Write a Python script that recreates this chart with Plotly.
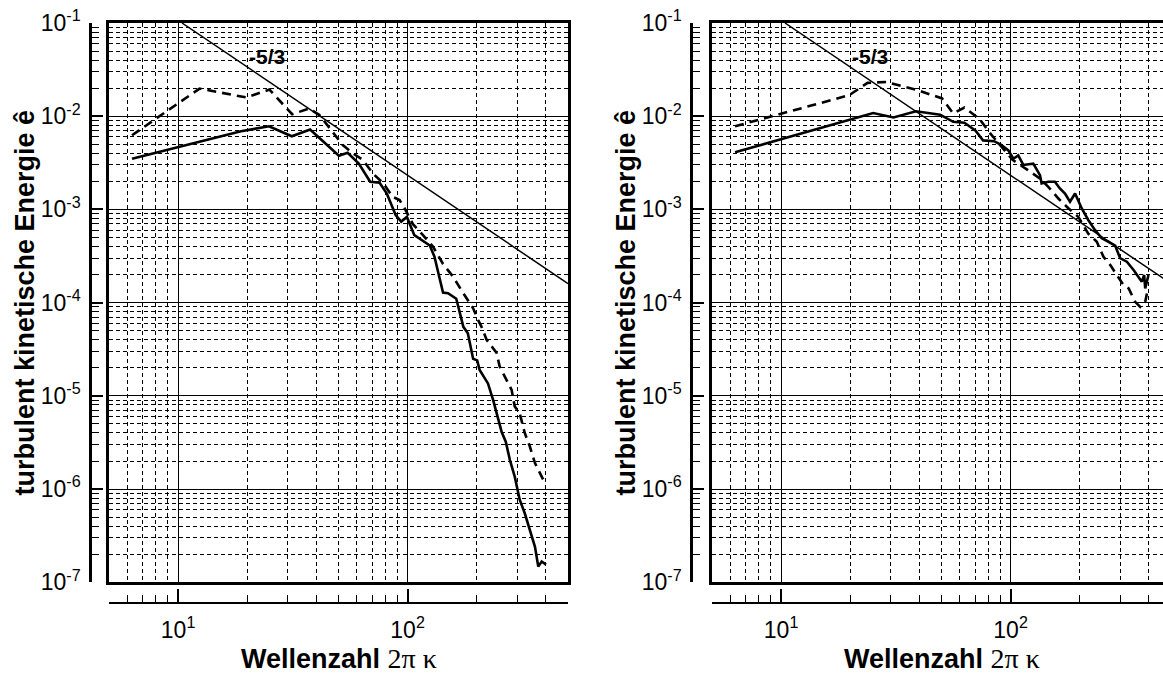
import math
import plotly.graph_objects as go

# ---------------- data ----------------
left_solid_k = [6.3, 12.6, 18.8, 24.9, 31.3, 37.6, 50.2, 54.8, 61.3, 68.7, 75.5, 81.2, 88.7, 93.8, 99.3,
                107, 115, 125, 131, 142.7, 150, 163, 175, 183, 193, 201, 206, 224, 236, 248,
                257, 268, 279, 293, 308, 324, 347, 359, 371, 384, 401]
left_solid_e = [3.5e-3, 5.4e-3, 6.9e-3, 7.8e-3, 6.1e-3, 7.2e-3, 3.76e-3, 4.05e-3, 3.1e-3, 1.98e-3, 1.93e-3,
                1.48e-3, 8.7e-4, 7.4e-4, 8.3e-4, 5.3e-4, 4.7e-4, 4.1e-4, 3.1e-4, 1.28e-4, 1.26e-4,
                1.1e-4, 5.5e-5, 4.7e-5, 2.5e-5, 2.4e-5, 1.9e-5, 1.36e-5, 9.0e-6, 5.5e-6, 4.1e-6,
                3.2e-6, 2.06e-6, 1.36e-6, 7.7e-7, 5.5e-7, 3.1e-7, 2.4e-7, 1.48e-7, 1.67e-7, 1.55e-7]

left_dash_k = [6.3, 12.4, 19.8, 25.0, 31.4, 37.3, 41.3, 47.2, 52.2, 57.7, 63.8, 70.6, 78, 86.3, 92.3, 97,
               105.5, 116.7, 129, 142.7, 157.8, 175, 193, 203, 210, 221, 244, 252, 270, 284, 293,
               308, 324, 341, 359, 377, 396]
left_dash_e = [6.25e-3, 1.98e-2, 1.59e-2, 1.93e-2, 1.05e-2, 1.21e-2, 1.03e-2, 6.8e-3, 4.9e-3, 4.0e-3,
               3.4e-3, 2.43e-3, 1.93e-3, 1.36e-3, 1.26e-3, 1.03e-3, 6.95e-4, 5.3e-4, 4.0e-4, 2.6e-4,
               1.9e-4, 1.26e-4, 8.7e-5, 6.5e-5, 5.5e-5, 4.0e-5, 2.9e-5, 2.06e-5, 1.48e-5, 1.16e-5,
               7.7e-6, 6.5e-6, 4.0e-6, 2.86e-6, 1.9e-6, 1.48e-6, 1.17e-6]

right_solid_k = [6.3, 25.2, 30.9, 38.7, 49.3, 56.2, 62.9, 70.4, 75.9, 84.8, 91.3, 97.8, 102.8, 108,
                 113.6, 125.6, 134.3, 136.5, 146, 156, 164, 172.6, 181.5, 191, 204, 218, 233.5,
                 249.6, 267, 285.5, 300, 321, 343.5, 361, 373, 382, 386, 399]
right_solid_e = [4.1e-3, 1.08e-2, 9.7e-3, 1.13e-2, 1.04e-2, 8.7e-3, 8.5e-3, 7.0e-3, 5.5e-3, 5.4e-3,
                 4.9e-3, 4.3e-3, 3.5e-3, 3.8e-3, 3.0e-3, 3.1e-3, 2.33e-3, 1.9e-3, 1.98e-3, 1.98e-3,
                 1.68e-3, 1.48e-3, 1.21e-3, 1.48e-3, 1.03e-3, 7.7e-4, 6.0e-4, 4.9e-4, 4.5e-4,
                 4.1e-4, 3.0e-4, 2.75e-4, 2.24e-4, 1.9e-4, 1.68e-4, 1.98e-4, 1.42e-4, 1.98e-4]

right_dash_k = [6.3, 19.8, 23.8, 28.7, 38.7, 50.3, 56.2, 62.9, 73, 81.7, 91.3, 102, 119, 134, 146,
                161.5, 178.5, 197.5, 218, 237.5, 254, 272, 290, 310.5, 327, 349, 367, 386, 393]
right_dash_e = [7.8e-3, 1.68e-2, 2.28e-2, 2.33e-2, 1.93e-2, 1.55e-2, 1.07e-2, 1.24e-2, 9.4e-3, 6.5e-3,
                4.7e-3, 3.4e-3, 2.64e-3, 2.15e-3, 1.75e-3, 1.31e-3, 1.03e-3, 8.3e-4, 5.5e-4, 4.5e-4,
                3.1e-4, 2.53e-4, 1.98e-4, 1.55e-4, 1.42e-4, 1.02e-4, 9.0e-5, 1.02e-4, 1.26e-4]

# -5/3 reference line end points
ref_k = [10.4, 500]
ref_e = [0.1, 1.6e-4]

x_major = [10, 100]
x_major_text = ["10<sup>1</sup>", "10<sup>2</sup>"]
y_major = [1e-7, 1e-6, 1e-5, 1e-4, 1e-3, 1e-2, 1e-1]
y_major_text = ["10<sup>-7</sup>", "10<sup>-6</sup>", "10<sup>-5</sup>", "10<sup>-4</sup>",
                "10<sup>-3</sup>", "10<sup>-2</sup>", "10<sup>-1</sup>"]
slope_label = "-5/3"
x_title = ("<b>Wellenzahl</b> <span style='font-family:\"Liberation Serif\",\"Times New Roman\",serif;"
           "font-size:28px'>2π κ</span>")
y_title = "<b>turbulent kinetische Energie ê</b>"

# ---------------- layout geometry ----------------
W, H = 1163, 673
MT, MB = 23, 63
PH = H - MT - MB
def py(p):  # pixel y -> paper
    return (H - MB - p) / PH
def px(p):
    return p / W

x_minor = [m * 10.0 ** e for e in range(0, 3) for m in range(2, 10)]
y_minor = [m * 10.0 ** e for e in range(-7, -1) for m in range(2, 10)]

XR_L = [math.log10(5), math.log10(500)]
XR_R = [math.log10(5), math.log10(5) + (1163 - 712) / 229.5]
YR = [-7, -1]
YDOM = [py(582.3), 1]

SANS = "Liberation Sans, Arial, sans-serif"
GRIDDASH = "4px,3px"

fig = go.Figure()

def add_panel(xa, ya, xfree, yfree, sk, se, dk, de):
    fig.add_trace(go.Scatter(x=ref_k, y=ref_e, mode="lines", xaxis=xa, yaxis=ya,
                             line=dict(color="black", width=1.5), showlegend=False, hoverinfo="skip"))
    fig.add_trace(go.Scatter(x=dk, y=de, mode="lines", xaxis=xa, yaxis=ya,
                             line=dict(color="black", width=2.6, dash="9px,6px"), showlegend=False))
    fig.add_trace(go.Scatter(x=sk, y=se, mode="lines", xaxis=xa, yaxis=ya,
                             line=dict(color="black", width=2.6), showlegend=False))
    # empty traces to attach the detached axes
    fig.add_trace(go.Scatter(x=[], y=[], xaxis=xfree, yaxis=ya, showlegend=False))
    fig.add_trace(go.Scatter(x=[], y=[], xaxis=xa, yaxis=yfree, showlegend=False))

add_panel("x", "y", "x3", "y3", left_solid_k, left_solid_e, left_dash_k, left_dash_e)
add_panel("x2", "y2", "x4", "y4", right_solid_k, right_solid_e, right_dash_k, right_dash_e)

def main_x(dom, rng, anchor):
    return dict(type="log", domain=dom, range=rng, anchor=anchor,
                showline=True, linewidth=3, linecolor="black", mirror=True,
                tickmode="array", tickvals=x_major, showticklabels=False, ticks="",
                showgrid=True, gridcolor="black", gridwidth=1, zeroline=False,
                minor=dict(tickmode="array", tickvals=x_minor, showgrid=True, gridcolor="black",
                           gridwidth=1, griddash=GRIDDASH, ticks=""))

def main_y(anchor, mirror):
    return dict(type="log", domain=YDOM, range=YR, anchor=anchor,
                showline=True, linewidth=3, linecolor="black", mirror=mirror,
                tickmode="array", tickvals=y_major, showticklabels=False, ticks="",
                showgrid=True, gridcolor="black", gridwidth=1, zeroline=False,
                minor=dict(tickmode="array", tickvals=y_minor, showgrid=True, gridcolor="black",
                           gridwidth=1, griddash=GRIDDASH, ticks=""))

def free_x(over, rng, dom):
    return dict(type="log", overlaying=over, anchor="free", position=py(603), domain=dom, range=rng,
                showline=True, linewidth=2, linecolor="black", showgrid=False, zeroline=False,
                tickmode="array", tickvals=x_major, ticktext=x_major_text,
                ticks="inside", ticklen=13, tickwidth=2, tickcolor="black",
                ticklabelstandoff=6,
                tickfont=dict(family=SANS, size=23, color="black"),
                minor=dict(tickmode="array", tickvals=x_minor, ticks="inside", ticklen=7,
                           tickwidth=1.3, tickcolor="black", showgrid=False))

def free_y(over, pos):
    return dict(type="log", overlaying=over, anchor="free", position=pos, domain=YDOM, range=YR,
                side="left", showline=True, linewidth=2.5, linecolor="black", showgrid=False,
                zeroline=False, tickmode="array", tickvals=y_major, ticktext=y_major_text,
                ticks="inside", ticklen=11, tickwidth=2, tickcolor="black",
                ticklabelstandoff=4,
                tickfont=dict(family=SANS, size=23, color="black"),
                minor=dict(tickmode="array", tickvals=y_minor, ticks="inside", ticklen=7,
                           tickwidth=1.3, tickcolor="black", showgrid=False))

DOM_L = [px(109), px(568)]
DOM_R = [px(712), 1.0]

fig.update_layout(
    width=W, height=H,
    margin=dict(l=0, r=0, t=MT, b=MB, autoexpand=False),
    paper_bgcolor="white", plot_bgcolor="white",
    showlegend=False,
    xaxis=main_x(DOM_L, XR_L, "y"),
    yaxis=main_y("x", True),
    xaxis2=main_x(DOM_R, XR_R, "y2"),
    yaxis2=main_y("x2", False),
    xaxis3=free_x("x", XR_L, DOM_L),
    yaxis3=free_y("y", px(90)),
    xaxis4=free_x("x2", XR_R, DOM_R),
    yaxis4=free_y("y2", px(691)),
)

ann = []
for xc, ytc in [((109 + 568) / 2, 24), ((712 + 1171) / 2, 625)]:
    ann.append(dict(text=x_title, x=px(xc), y=py(658), xref="paper", yref="paper",
                    showarrow=False, xanchor="center", yanchor="middle",
                    font=dict(family=SANS, size=27, color="black")))
    ann.append(dict(text=y_title, x=px(ytc), y=py(302.5), xref="paper", yref="paper",
                    showarrow=False, xanchor="center", yanchor="middle", textangle=-90,
                    font=dict(family=SANS, size=27, color="black")))
for xr, yr in [("x", "y"), ("x2", "y2")]:
    ann.append(dict(text="<b>" + slope_label + "</b>", x=math.log10(24.3), y=math.log10(0.044),
                    xref=xr, yref=yr, showarrow=False, xanchor="center", yanchor="middle",
                    font=dict(family=SANS, size=21, color="black")))
fig.update_layout(annotations=ann)

fig.write_html("out.html")
